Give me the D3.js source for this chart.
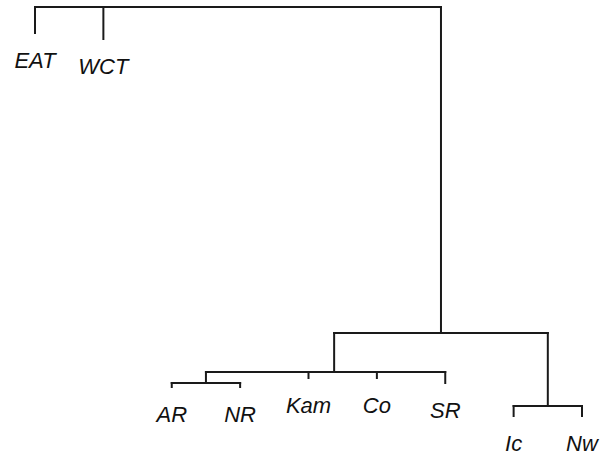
<!DOCTYPE html>
<html><head><meta charset="utf-8">
<script src="https://cdn.jsdelivr.net/npm/d3@7"></script>
<style>body{margin:0;background:#fff}svg{display:block}</style>
</head><body>
<svg id="c" width="604" height="465"></svg>
<script>
// leaf order (left to right)
const leaves = ["EAT","WCT","AR","NR","Kam","Co","SR","Ic","Nw"];
// tree topology with branch lengths (distance units)
const tree = {name:"root", len:0, children:[
  {name:"EAT", len:26},
  {name:"WCT", len:32},
  {name:"n1", len:326, children:[
    {name:"n2", len:39, children:[
      {name:"n3", len:11, children:[
        {name:"AR", len:4},
        {name:"NR", len:4}
      ]},
      {name:"Kam", len:6},
      {name:"Co", len:6},
      {name:"SR", len:11}
    ]},
    {name:"n4", len:73, children:[
      {name:"Ic", len:10},
      {name:"Nw", len:10}
    ]}
  ]}
]};

const svg = d3.select("#c");
const root = d3.hierarchy(tree);
root.each(d => { d.dist = (d.parent ? d.parent.dist : 0) + d.data.len; });
const maxDist = d3.max(root.leaves(), d => d.dist);

const x = d3.scalePoint().domain(leaves).range([35, 582]);
const y = d3.scaleLinear().domain([0, maxDist]).range([7, 416]);

root.eachAfter(d => {
  d.px = d.children ? d3.mean(d.children, c => c.px) : x(d.data.name);
  d.py = y(d.dist);
});

const g = svg.append("g").attr("fill","none").attr("stroke","#1a1a1a")
  .attr("stroke-width",2).attr("stroke-linecap","square");

root.descendants().filter(d => d.children).forEach(d => {
  const xs = d.children.map(c => c.px);
  g.append("line").attr("x1", d3.min(xs)).attr("x2", d3.max(xs))
    .attr("y1", d.py).attr("y2", d.py);
  d.children.forEach(c => {
    g.append("line").attr("x1", c.px).attr("x2", c.px)
      .attr("y1", d.py).attr("y2", c.py);
  });
});

svg.append("g").selectAll("text").data(root.leaves()).join("text")
  .attr("x", d => d.px).attr("y", d => d.py + 35)
  .attr("text-anchor","middle")
  .attr("font-family","'Liberation Sans', Arial, sans-serif")
  .attr("font-style","italic").attr("font-size",22).attr("fill","#111")
  .text(d => d.data.name);
</script>
</body></html>
